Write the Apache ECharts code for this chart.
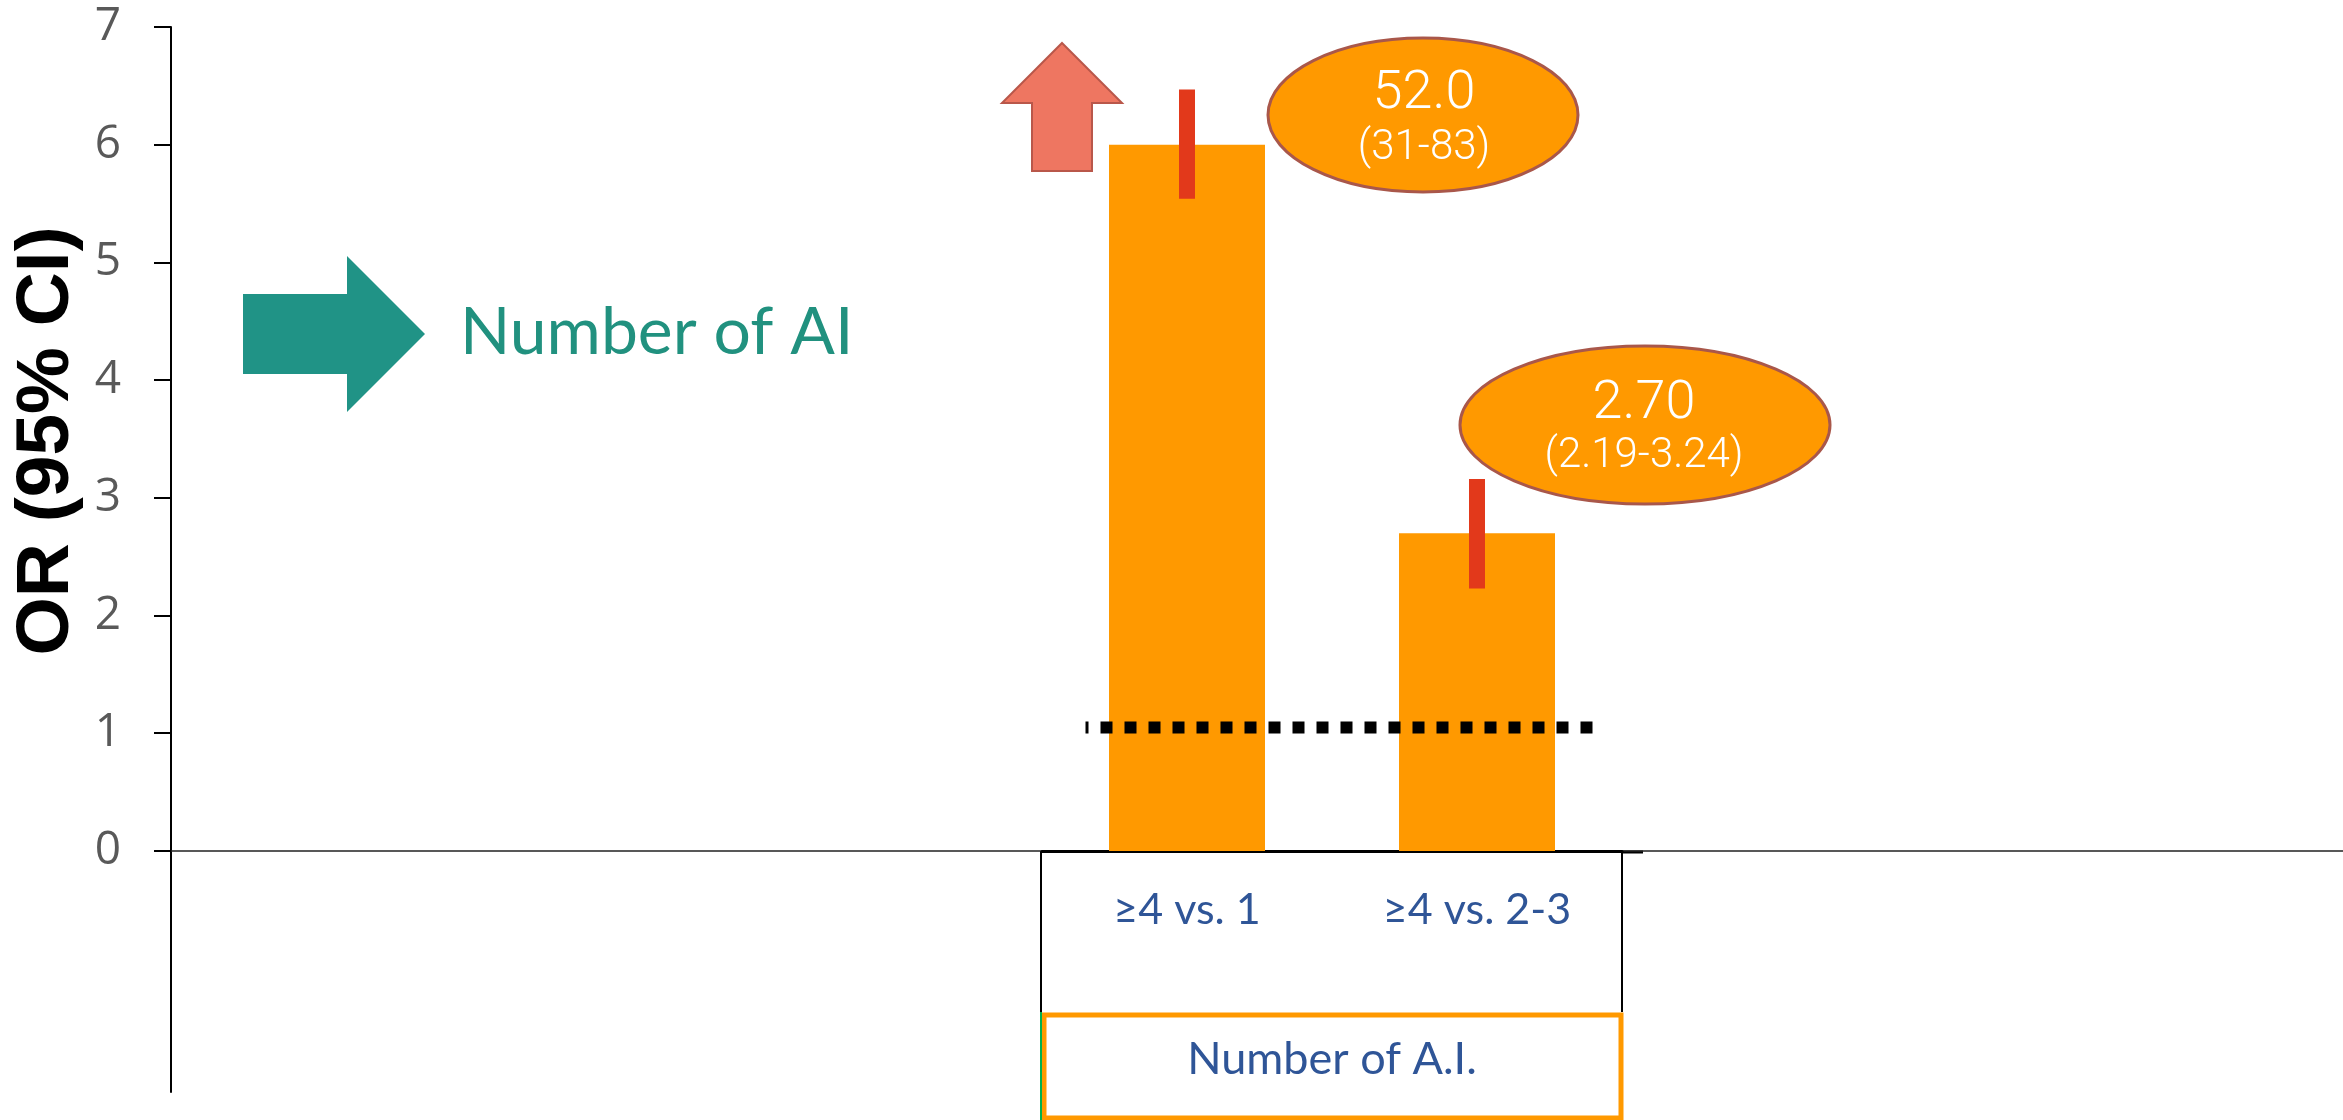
<!DOCTYPE html>
<html>
<head>
<meta charset="utf-8">
<script src="https://cdn.jsdelivr.net/npm/echarts@6/dist/echarts.min.js"></script>
<style>
html, body { margin: 0; padding: 0; background: #fff; }
#orChart { width: 2343px; height: 1120px; }
</style>
</head>
<body>
<div id="orChart"></div>
<script>
var categories = ['≥4 vs. 1', '≥4 vs. 2-3'];
var orValues = [6.0, 2.70];      // bar heights as drawn (first bar is capped at 6)
var ciLow = [5.54, 2.23];
var ciHigh = [6.47, 3.16];
var orLabels = ['52.0', '2.70'];
var ciLabels = ['(31-83)', '(2.19-3.24)'];
var yTicks = [0, 1, 2, 3, 4, 5, 6, 7];
var refLineX = [-0.35, 1.4];
var refLineY = 1.05;

var chartDiv = document.getElementById('orChart');
var chart = echarts.init(chartDiv);

var errData = categories.map(function (c, i) { return [i, ciLow[i], ciHigh[i]]; });
var refData = refLineX.map(function (x) { return [x, refLineY]; });

var option = {
	animation: false,
	backgroundColor: '#fff',
	grid: [
		{ left: 171, right: 0, top: 27, bottom: 28, outerBoundsMode: 'none' },
		{ left: 1042, right: 721, top: 27, bottom: 269, outerBoundsMode: 'none' }
	],
	xAxis: [
		{
			gridIndex: 0, type: 'value', min: 0, max: 1,
			axisLine: { show: true, onZero: true, lineStyle: { color: '#222', width: 1.5 } },
			axisTick: { show: false }, axisLabel: { show: false }, splitLine: { show: false }
		},
		{
			gridIndex: 1, type: 'category', data: categories, position: 'bottom',
			axisLine: { show: true, onZero: false, lineStyle: { color: '#000', width: 3 } },
			axisTick: { show: false },
			axisLabel: { show: true, interval: 0, margin: 38, fontSize: 43, color: '#2F5597', fontFamily: 'Lato' },
			name: 'Number of A.I.', nameLocation: 'middle', nameGap: 186,
			nameTextStyle: { fontSize: 45, color: '#2F5597', fontFamily: 'Lato' }
		},
		{
			gridIndex: 1, type: 'value', min: -0.5, max: 1.5, show: false
		}
	],
	yAxis: [
		{
			gridIndex: 0, type: 'value', min: -2.05, max: 7,
			axisLine: { show: true, lineStyle: { color: '#000', width: 2 } },
			axisTick: { show: true, length: 17, customValues: yTicks, lineStyle: { color: '#000', width: 2 } },
			axisLabel: { customValues: yTicks, margin: 50, fontSize: 46, color: '#595959', fontFamily: 'Open Sans' },
			splitLine: { show: false }
		},
		{
			gridIndex: 1, type: 'value', min: 0, max: 7, show: false
		}
	],
	series: [
		{
			type: 'bar', xAxisIndex: 1, yAxisIndex: 1,
			data: orValues, barWidth: 156,
			itemStyle: { color: '#FF9900' }
		},
		{
			type: 'custom', xAxisIndex: 1, yAxisIndex: 1,
			data: errData,
			encode: { x: 0, y: [1, 2] },
			renderItem: function (params, api) {
				var top = api.coord([api.value(0), api.value(2)]);
				var bot = api.coord([api.value(0), api.value(1)]);
				return {
					type: 'rect',
					shape: { x: top[0] - 8, y: top[1], width: 16, height: bot[1] - top[1] },
					style: { fill: '#E2391B' }
				};
			},
			z: 5
		},
		{
			type: 'line', xAxisIndex: 2, yAxisIndex: 1,
			data: refData, symbol: 'none', silent: true,
			lineStyle: { color: '#000', width: 12, type: [12, 12], dashOffset: 9, cap: 'butt' },
			z: 6
		}
	],
	graphic: [
		// y axis title
		{
			type: 'text', x: 47, y: 441, rotation: Math.PI / 2,
			style: { text: 'OR (95% CI)', font: 'bold 75px "Liberation Sans"', fill: '#000', align: 'center', verticalAlign: 'middle' }
		},
		// teal arrow + caption
		{
			type: 'polygon',
			shape: { points: [[243, 294], [347, 294], [347, 256], [425, 334], [347, 412], [347, 374], [243, 374]] },
			style: { fill: '#209386' }
		},
		{
			type: 'text', x: 460, y: 333,
			style: { text: 'Number of AI', font: '66px Lato', fill: '#21917F', align: 'left', verticalAlign: 'middle' }
		},
		// up arrow above the capped bar
		{
			type: 'polygon',
			shape: { points: [[1062, 43], [1122, 103], [1092, 103], [1092, 171], [1032, 171], [1032, 103], [1002, 103]] },
			style: { fill: '#EE7661', stroke: '#B9574A', lineWidth: 2 }
		},
		// value bubbles
		{
			type: 'ellipse', shape: { cx: 1423, cy: 115, rx: 155, ry: 77 },
			style: { fill: '#FF9900', stroke: '#A9574A', lineWidth: 3 }, z: 10
		},
		{
			type: 'text', x: 1424, y: 94, z: 11,
			style: { text: orLabels[0], font: '300 54px Roboto', fill: '#fff', align: 'center', verticalAlign: 'middle' }
		},
		{
			type: 'text', x: 1424, y: 148, z: 11,
			style: { text: ciLabels[0], font: '300 42px Roboto', fill: '#fff', align: 'center', verticalAlign: 'middle' }
		},
		{
			type: 'ellipse', shape: { cx: 1645, cy: 425, rx: 185, ry: 79 },
			style: { fill: '#FF9900', stroke: '#A9574A', lineWidth: 3 }, z: 10
		},
		{
			type: 'text', x: 1644, y: 404, z: 11,
			style: { text: orLabels[1], font: '300 54px Roboto', fill: '#fff', align: 'center', verticalAlign: 'middle' }
		},
		{
			type: 'text', x: 1644, y: 456, z: 11,
			style: { text: ciLabels[1], font: '300 42px Roboto', fill: '#fff', align: 'center', verticalAlign: 'middle' }
		},
		// category table box
		{
			type: 'line', shape: { x1: 1622, y1: 852, x2: 1643, y2: 852 },
			style: { stroke: '#000', lineWidth: 3 }
		},
		{
			type: 'line', shape: { x1: 1041, y1: 851, x2: 1041, y2: 1012 },
			style: { stroke: '#000', lineWidth: 2 }
		},
		{
			type: 'line', shape: { x1: 1622, y1: 851, x2: 1622, y2: 1012 },
			style: { stroke: '#000', lineWidth: 2 }
		},
		{
			type: 'rect', shape: { x: 1044, y: 1015, width: 577, height: 103 },
			style: { fill: 'none', stroke: '#FF9900', lineWidth: 5 }
		},
		{
			type: 'line', shape: { x1: 1041, y1: 1012, x2: 1041, y2: 1120 },
			style: { stroke: '#00B050', lineWidth: 2 }
		}
	]
};

if (option && typeof option === 'object') {
	chart.setOption(option, true);
}
</script>
</body>
</html>
